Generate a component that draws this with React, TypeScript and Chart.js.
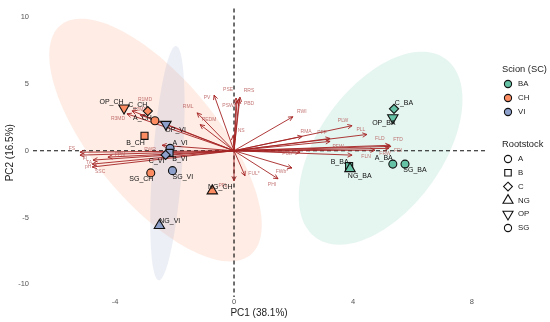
import React, { useEffect, useRef } from 'react';
import { Chart, registerables } from 'chart.js';
Chart.register(...registerables);

// ---------- data ----------
const scions = ['BA', 'CH', 'VI'];
const scionColors = ['#66C2A5', '#FC8D62', '#8DA0CB'];
const rootstocks = ['A', 'B', 'C', 'NG', 'OP', 'SG'];

// sample scores (order of rootstocks: A, B, C, NG, OP, SG)
const pc1BA = [5.34, 3.87, 5.38, 3.9, 5.34, 5.75];
const pc2BA = [-1.0, -1.14, 3.14, -1.34, 2.47, -1.0];
const pc1CH = [-2.66, -3.01, -2.9, -0.73, -3.7, -2.8];
const pc2CH = [2.25, 1.12, 2.97, -3.01, 3.2, -1.66];
const pc1VI = [-2.15, -2.17, -2.3, -2.51, -2.29, -2.07];
const pc2VI = [0.18, -0.16, -0.31, -5.6, 1.98, -1.49];

// variable loadings (scaled)
const variables = ['PV', 'PSE', 'RRS', 'PBD', 'PSW', 'RML', 'PEDM', 'NS', 'RWI', 'PLW', 'PLL', 'RMA', 'PFF', 'PFW',
  'FLD', 'FTD', 'FDI', 'FRW', 'FLN', 'FUb*', 'FWb*', 'PHI', 'FUL*', 'PFL', 'R1MD', 'R3MD', 'R2MD', 'FS', 'FI', 'FPN',
  'SSC', 'TA', 'pH', 'PWR'];
const loadPC1 = [-0.67, 0.07, 0.2, 0.17, 0.1, -1.24, -1.14, -0.03, 1.98, 3.97, 4.47, 2.29, 3.23, 3.23,
  5.24, 5.28, 5.21, 4.74, 3.97, 2.22, 1.95, 1.48, 0.37, 0.0, -3.43, -3.6, -3.16, -5.18, -5.18, -4.24,
  -4.77, -4.74, -4.77, -2.42];
const loadPC2 = [4.17, 3.95, 4.02, 3.87, 3.73, 2.84, 1.96, 1.14, 2.55, 1.88, 1.22, 1.07, 0.92, 0.7,
  0.41, 0.33, 0.18, 0.04, -0.33, -0.11, -1.29, -2.1, -1.88, -2.25, 2.99, 2.77, 2.69, -0.11, -0.33, -0.48,
  -1.22, -0.7, -1.0, 0.41];

// concentration ellipses per scion: centre and two half-axis vectors (data units)
const ellipseCX = [4.93, -2.64, -2.24];
const ellipseCY = [0.19, 0.8, -0.93];
const ellipseAX = [2.15, -3.18, 0.29];
const ellipseAY = [6.75, 8.63, 8.78];
const ellipseBX = [1.72, 1.63, 0.5];
const ellipseBY = [-2.6, 2.88, -0.07];

const xTicks = [-4, 0, 4, 8];
const yTicks = [-10, -5, 0, 5, 10];
const xTitle = 'PC1 (38.1%)';
const yTitle = 'PC2 (16.5%)';
const legendScionTitle = 'Scion (SC)';
const legendRootTitle = 'Rootstock';

// ---------- styling (label offsets in px) ----------
const sampleLabelOffsets: number[][][] = [
  [[-9, -6.3], [-9.5, -4], [10, -6], [9.7, 7.3], [-9, 5.7], [10, 6]],
  [[-12.5, -2.7], [-9, 7], [-10, -5.6], [8, -4.3], [-12.5, -6], [-9.4, 6.3]],
  [[10, -5], [10.4, 6.6], [-9, 6.6], [10.4, -4.3], [9.7, 6], [10.4, 6.3]],
];
const varLabelOffsets: number[][] = [
  [-7, 3], [-8, -8], [9, -6], [10, 5], [-9, 5], [-9, -6], [9, -5], [8, -5], [9, -5], [-9, -5], [-6, -5], [4, -5], [-8, -6], [8, 5],
  [-10, -7], [7, -7], [9, 2], [10, 3], [14, 1], [-12, 1], [-10, 4], [-6, 6], [9, -2], [-11, 5], [13, -11], [-9, 5], [0, -5], [-8, -4], [5, 3], [12, -3],
  [8, 5], [-4, 3], [-4, 3], [-12, 4],
];

const FONT = '"Liberation Sans", Arial, Helvetica, sans-serif';
const shapeStyles = ['circle', 'rect', 'rectRot', 'triangle', 'triangle', 'circle'];
const shapeRot = [0, 0, 0, 0, 180, 0];
const shapeRadius = [4, 5, 4.6, 6, 6, 4];

function rgba(hex: string, a: number) {
  const n = parseInt(hex.slice(1), 16);
  return `rgba(${(n >> 16) & 255},${(n >> 8) & 255},${n & 255},${a})`;
}

function shapePath(ctx: CanvasRenderingContext2D, idx: number, x: number, y: number, r: number) {
  ctx.beginPath();
  const st = shapeStyles[idx];
  if (st === 'circle') {
    ctx.arc(x, y, r, 0, Math.PI * 2);
  } else if (st === 'rect') {
    const s = r * Math.SQRT1_2;
    ctx.rect(x - s, y - s, 2 * s, 2 * s);
  } else if (st === 'rectRot') {
    ctx.moveTo(x, y - r); ctx.lineTo(x + r, y); ctx.lineTo(x, y + r); ctx.lineTo(x - r, y);
    ctx.closePath();
  } else {
    let rad = (shapeRot[idx] * Math.PI) / 180;
    for (let k = 0; k < 3; k++) {
      const px = x + Math.sin(rad) * r, py = y - Math.cos(rad) * r;
      if (k === 0) ctx.moveTo(px, py); else ctx.lineTo(px, py);
      rad += (2 * Math.PI) / 3;
    }
    ctx.closePath();
  }
}

const pc1 = [pc1BA, pc1CH, pc1VI];
const pc2 = [pc2BA, pc2CH, pc2VI];

const biplotPlugin = {
  id: 'biplot',
  beforeDatasetsDraw(chart: any) {
    const { ctx, chartArea: ca, scales } = chart;
    const xs = scales.x, ys = scales.y;
    ctx.save();
    // ellipses
    for (let i = 0; i < scions.length; i++) {
      ctx.beginPath();
      for (let k = 0; k <= 120; k++) {
        const t = (k / 120) * Math.PI * 2;
        const dx = ellipseCX[i] + Math.cos(t) * ellipseAX[i] + Math.sin(t) * ellipseBX[i];
        const dy = ellipseCY[i] + Math.cos(t) * ellipseAY[i] + Math.sin(t) * ellipseBY[i];
        const px = xs.getPixelForValue(dx), py = ys.getPixelForValue(dy);
        if (k === 0) ctx.moveTo(px, py); else ctx.lineTo(px, py);
      }
      ctx.closePath();
      ctx.fillStyle = rgba(scionColors[i], 0.17);
      ctx.fill();
    }
    // reference lines
    const x0 = xs.getPixelForValue(0), y0 = ys.getPixelForValue(0);
    ctx.setLineDash([4, 3]);
    ctx.strokeStyle = '#111';
    ctx.lineWidth = 1.2;
    ctx.beginPath();
    ctx.moveTo(x0, ca.top); ctx.lineTo(x0, ca.bottom);
    ctx.moveTo(ca.left, y0); ctx.lineTo(ca.right, y0);
    ctx.stroke();
    ctx.setLineDash([]);
    // arrows
    ctx.strokeStyle = 'rgba(165,35,35,0.9)';
    ctx.lineWidth = 1;
    for (let i = 0; i < variables.length; i++) {
      const tx = xs.getPixelForValue(loadPC1[i]), ty = ys.getPixelForValue(loadPC2[i]);
      const ang = Math.atan2(ty - y0, tx - x0);
      const hl = 5;
      ctx.beginPath();
      ctx.moveTo(x0, y0); ctx.lineTo(tx, ty);
      ctx.moveTo(tx - hl * Math.cos(ang - 0.45), ty - hl * Math.sin(ang - 0.45));
      ctx.lineTo(tx, ty);
      ctx.lineTo(tx - hl * Math.cos(ang + 0.45), ty - hl * Math.sin(ang + 0.45));
      ctx.stroke();
    }
    ctx.fillStyle = 'rgba(175,70,70,0.75)';
    ctx.font = `5px ${FONT}`;
    ctx.textAlign = 'center';
    ctx.textBaseline = 'middle';
    for (let i = 0; i < variables.length; i++) {
      const tx = xs.getPixelForValue(loadPC1[i]), ty = ys.getPixelForValue(loadPC2[i]);
      ctx.fillText(variables[i], tx + varLabelOffsets[i][0], ty + varLabelOffsets[i][1]);
    }
    ctx.restore();
  },
  afterDatasetsDraw(chart: any) {
    const { ctx, scales } = chart;
    const xs = scales.x, ys = scales.y;
    ctx.save();
    ctx.fillStyle = '#111';
    ctx.font = `7px ${FONT}`;
    ctx.textAlign = 'center';
    ctx.textBaseline = 'middle';
    for (let i = 0; i < scions.length; i++) {
      for (let j = 0; j < rootstocks.length; j++) {
        const px = xs.getPixelForValue(pc1[i][j]), py = ys.getPixelForValue(pc2[i][j]);
        const o = sampleLabelOffsets[i][j];
        ctx.fillText(`${rootstocks[j]}_${scions[i]}`, px + o[0], py + o[1]);
      }
    }
    // legend
    const lx = 502, mx = 508, tx = 518;
    ctx.textAlign = 'left';
    ctx.fillStyle = '#222';
    ctx.font = `9.3px ${FONT}`;
    ctx.fillText(legendScionTitle, lx, 69);
    ctx.font = `7.8px ${FONT}`;
    for (let i = 0; i < scions.length; i++) {
      const yy = 84 + i * 14;
      shapePath(ctx, 0, mx, yy, 3.6);
      ctx.fillStyle = scionColors[i];
      ctx.fill();
      ctx.strokeStyle = '#111';
      ctx.lineWidth = 1.1;
      ctx.stroke();
      ctx.fillStyle = '#222';
      ctx.fillText(scions[i], tx, yy);
    }
    ctx.font = `9.3px ${FONT}`;
    ctx.fillText(legendRootTitle, lx, 144);
    ctx.font = `7.8px ${FONT}`;
    const legR = [3.6, 4.6, 4.4, 5.8, 5.8, 3.6];
    for (let j = 0; j < rootstocks.length; j++) {
      const yy = 159 + j * 13.8;
      shapePath(ctx, j, mx, yy, legR[j]);
      ctx.strokeStyle = '#111';
      ctx.lineWidth = 1.1;
      ctx.stroke();
      ctx.fillStyle = '#222';
      ctx.fillText(rootstocks[j], tx, yy);
    }
    ctx.restore();
  },
};

export default function App() {
  const ref = useRef<HTMLCanvasElement>(null);
  useEffect(() => {
    if (!ref.current) return;
    const datasets = scions.map((s, i) => ({
      label: s,
      data: rootstocks.map((_, j) => ({ x: pc1[i][j], y: pc2[i][j] })),
      backgroundColor: scionColors[i],
      borderColor: '#111',
      borderWidth: 1.1,
      pointStyle: rootstocks.map((_, j) => shapeStyles[j]),
      pointRotation: rootstocks.map((_, j) => shapeRot[j]),
      pointRadius: rootstocks.map((_, j) => shapeRadius[j]),
      pointHoverRadius: rootstocks.map((_, j) => shapeRadius[j]),
    }));
    const chart = new Chart(ref.current, {
      type: 'scatter',
      data: { datasets } as any,
      options: {
        animation: false,
        responsive: false,
        events: [],
        layout: { padding: { top: 4, right: 65, bottom: 0, left: 0 } },
        plugins: { legend: { display: false }, tooltip: { enabled: false } },
        scales: {
          x: {
            type: 'linear',
            min: -6.76,
            max: 8.44,
            afterBuildTicks: (s: any) => { s.ticks = xTicks.map((v) => ({ value: v })); },
            afterFit: (s: any) => { s.height = 25; },
            grid: { display: false, drawTicks: false },
            border: { display: false },
            ticks: { font: { family: FONT, size: 7.5 }, color: '#555', padding: 0, maxRotation: 0 },
            title: { display: true, text: xTitle, font: { family: FONT, size: 10 }, color: '#222', padding: { top: 0, bottom: 3 } },
          },
          y: {
            type: 'linear',
            min: -10.96,
            max: 10.66,
            afterBuildTicks: (s: any) => { s.ticks = yTicks.map((v) => ({ value: v })); },
            afterFit: (s: any) => { s.width = 33; },
            grid: { display: false, drawTicks: false },
            border: { display: false },
            ticks: { font: { family: FONT, size: 7.5 }, color: '#555', padding: 4 },
            title: { display: true, text: yTitle, font: { family: FONT, size: 10 }, color: '#222', padding: { top: 4, bottom: 0 } },
          },
        },
      } as any,
      plugins: [biplotPlugin],
    });
    return () => chart.destroy();
  }, []);
  return (
    <div style={{ position: 'absolute', left: 0, top: 0, width: 550, height: 322, background: '#fff' }}>
      <canvas ref={ref} width={550} height={322} />
    </div>
  );
}
